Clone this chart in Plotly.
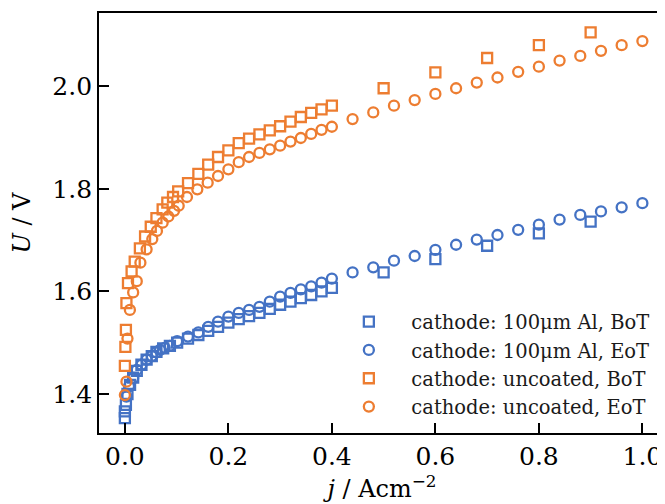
import plotly.graph_objects as go

# ---- data ----
al_bot_x = [0.0, 0.0, 0.002, 0.005, 0.01, 0.016, 0.023, 0.032, 0.042, 0.052, 0.061, 0.074, 0.087, 0.101,
            0.122, 0.142, 0.161, 0.18, 0.20, 0.22, 0.24, 0.26, 0.28, 0.30, 0.32, 0.34, 0.36, 0.38, 0.40,
            0.5, 0.6, 0.7, 0.8, 0.9]
al_bot_y = [1.353, 1.366, 1.379, 1.400, 1.418, 1.432, 1.445, 1.457, 1.467, 1.474, 1.482, 1.489, 1.494, 1.500,
            1.508, 1.515, 1.523, 1.531, 1.539, 1.546, 1.552, 1.558, 1.566, 1.574, 1.580, 1.587, 1.593, 1.600, 1.607,
            1.637, 1.663, 1.689, 1.713, 1.736]

al_eot_x = [0.003, 0.008, 0.016, 0.023, 0.032, 0.042, 0.052, 0.061, 0.068, 0.077, 0.087, 0.101,
            0.122, 0.142, 0.161, 0.18, 0.20, 0.22, 0.24, 0.26, 0.28, 0.30, 0.32, 0.34, 0.36, 0.38, 0.40,
            0.44, 0.48, 0.52, 0.56, 0.60, 0.64, 0.68, 0.72, 0.76, 0.80, 0.84, 0.88, 0.92, 0.96, 1.00]
al_eot_y = [1.395, 1.415, 1.431, 1.447, 1.457, 1.467, 1.474, 1.481, 1.486, 1.490, 1.494, 1.503,
            1.512, 1.520, 1.531, 1.541, 1.551, 1.558, 1.564, 1.570, 1.580, 1.590, 1.597, 1.604, 1.610, 1.617, 1.625,
            1.637, 1.647, 1.660, 1.669, 1.681, 1.691, 1.701, 1.710, 1.720, 1.730, 1.740, 1.749, 1.756, 1.764, 1.772]

unc_bot_x = [0.0, 0.001, 0.002, 0.003, 0.006, 0.013, 0.019, 0.029, 0.039, 0.05, 0.061, 0.073, 0.082, 0.093, 0.103,
             0.122, 0.142, 0.161, 0.18, 0.20, 0.22, 0.24, 0.26, 0.28, 0.30, 0.32, 0.34, 0.36, 0.38, 0.40,
             0.5, 0.6, 0.7, 0.8, 0.9]
unc_bot_y = [1.455, 1.492, 1.525, 1.577, 1.616, 1.639, 1.658, 1.684, 1.707, 1.726, 1.743, 1.760, 1.773, 1.784, 1.795,
             1.811, 1.829, 1.847, 1.862, 1.875, 1.889, 1.898, 1.906, 1.914, 1.922, 1.931, 1.940, 1.948, 1.955, 1.962,
             1.996, 2.027, 2.055, 2.080, 2.105]

unc_eot_x = [0.0, 0.003, 0.005, 0.0097, 0.016, 0.023, 0.030, 0.042, 0.053, 0.062, 0.073, 0.084, 0.095, 0.104,
             0.12, 0.14, 0.16, 0.18, 0.20, 0.22, 0.24, 0.26, 0.28, 0.30, 0.32, 0.34, 0.36, 0.38, 0.40,
             0.44, 0.48, 0.52, 0.56, 0.60, 0.64, 0.68, 0.72, 0.76, 0.80, 0.84, 0.88, 0.92, 0.96, 1.00]
unc_eot_y = [1.398, 1.424, 1.508, 1.564, 1.598, 1.620, 1.656, 1.682, 1.702, 1.718, 1.734, 1.746, 1.757, 1.767,
             1.784, 1.799, 1.812, 1.825, 1.838, 1.852, 1.862, 1.870, 1.877, 1.884, 1.892, 1.899, 1.907, 1.915, 1.921,
             1.936, 1.949, 1.962, 1.973, 1.985, 1.996, 2.007, 2.017, 2.028, 2.038, 2.050, 2.059, 2.069, 2.080, 2.088]

names = ["cathode: 100μm Al, BoT", "cathode: 100μm Al, EoT",
         "cathode: uncoated, BoT", "cathode: uncoated, EoT"]
x_ticks = [0.0, 0.2, 0.4, 0.6, 0.8, 1.0]
y_ticks = [1.4, 1.6, 1.8, 2.0]

BLUE = "#4472C4"
ORANGE = "#ED7D31"
FONT = "DejaVu Serif"

series = [
    (al_bot_x, al_bot_y, names[0], BLUE, "square-open"),
    (al_eot_x, al_eot_y, names[1], BLUE, "circle-open"),
    (unc_bot_x, unc_bot_y, names[2], ORANGE, "square-open"),
    (unc_eot_x, unc_eot_y, names[3], ORANGE, "circle-open"),
]

fig = go.Figure()
for i, (xs, ys, nm, col, sym) in enumerate(series):
    fig.add_trace(go.Scatter(
        x=xs, y=ys, mode="markers", name=nm, legendgroup=f"g{i}",
        marker=dict(symbol=sym, size=10, color=col, line=dict(color=col, width=2.3)),
    ))

# the page body adds an 8px offset, so the figure is 8px smaller than the window
fig.update_layout(
    width=657, height=496,
    margin=dict(l=91, r=0, t=5, b=71),
    paper_bgcolor="white", plot_bgcolor="white",
    font=dict(family=FONT, color="black", size=24),
    legend=dict(
        x=0.4017, y=0.311, xanchor="left", yanchor="top",
        bgcolor="rgba(0,0,0,0)", font=dict(size=19.5, color="#1a1a1a"),
        itemwidth=75, tracegroupgap=0,
    ),
)
fig.update_xaxes(
    range=[-0.05, -0.05 + 566 / 517.5], automargin=False,
    tickvals=x_ticks, ticktext=[f"{v:.1f}" for v in x_ticks],
    ticks="inside", ticklen=10, tickwidth=1.8, tickcolor="black",
    showline=True, linecolor="black", linewidth=1.8, mirror=True,
    showgrid=False, zeroline=False,
    tickfont=dict(size=25, family=FONT),
    title=dict(text="<i>j</i> / Acm<sup>−2</sup>", font=dict(size=24, family=FONT), standoff=6),
)
fig.update_yaxes(
    range=[1.324, 1.324 + 420 / 513], automargin=False,
    tickvals=y_ticks, ticktext=[f"{v:.1f}" for v in y_ticks],
    ticks="inside", ticklen=10, tickwidth=1.8, tickcolor="black",
    showline=True, linecolor="black", linewidth=1.8, mirror=False,
    showgrid=False, zeroline=False,
    tickfont=dict(size=25, family=FONT),
    title=dict(text="<i>U</i> / V", font=dict(size=24, family=FONT), standoff=15),
)

fig.write_html("out.html")
